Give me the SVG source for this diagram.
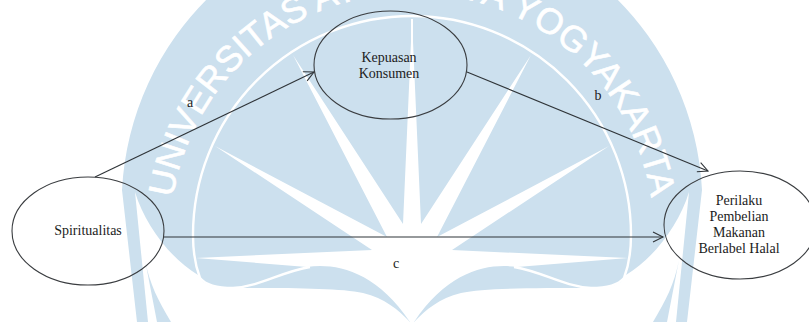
<svg xmlns="http://www.w3.org/2000/svg" xmlns:xlink="http://www.w3.org/1999/xlink" width="809" height="322" viewBox="0 0 809 322">
  <style>
    .wm { fill: #cce0ee; }
    .wo { fill: #fff; }
    .wr { fill: none; stroke: #fff; stroke-width: 2.4; }
    .wt { fill: #fff; stroke: #fff; stroke-width: 0.6; font-family: "Liberation Sans", Arial, sans-serif; font-size: 36px; }
    .node { fill: none; stroke: #3a3d40; stroke-width: 1.1; }
    .lbl { fill: #1c1c1c; font-family: "Liberation Serif", "Times New Roman", serif; font-size: 14px; text-anchor: middle; }
    .edge { fill: none; stroke: #2f3438; stroke-width: 1.1; marker-end: url(#open); }
  </style>
  <defs>
    <marker id="open" markerUnits="userSpaceOnUse" markerWidth="14" markerHeight="14" refX="11" refY="7" orient="auto">
      <path d="M1,2 L11,7 L1,12" fill="none" stroke="#2f3438" stroke-width="1.1"/>
    </marker>
    <path id="blueHalf" d="M413,-86 L412,-86 A291,291 0 0 0 122,190 L137,322 L148,322 L135,192 C145,225 170,258 198,275 L203,282 Q212,288 233,288 C290,288 340,288 363,293 C385,298 398,310 410,322 L413,322 Z"/>
    <path id="whiteHalf" d="M412,19 L403,224 L293,55 L387,237 L215,146 L372,250 L196,258 L307,267 C335,263 375,270 410,322 L413,322 L413,19 Z"/>
    <path id="ringHalf" d="M412,16 A219,219 0 0 0 193,235 C193,250 195,265 200,278 Q208,288 233,288 C262,286 280,272 310,267"/>
    <path id="strip2" d="M145,260 L157,322 L171,322 C158,300 150,285 145,260 Z"/>
    <path id="arcText" d="M170,235 A242,242 0 0 1 654,235"/>
  </defs>

  <rect width="809" height="322" fill="#fff"/>

  <g id="watermark">
    <use xlink:href="#blueHalf" href="#blueHalf" class="wm"/>
    <use xlink:href="#blueHalf" href="#blueHalf" class="wm" transform="matrix(-1 0 0 1 824 0)"/>
    <use xlink:href="#strip2" href="#strip2" class="wm"/>
    <use xlink:href="#strip2" href="#strip2" class="wm" transform="matrix(-1 0 0 1 824 0)"/>
    <use xlink:href="#ringHalf" href="#ringHalf" class="wr"/>
    <use xlink:href="#ringHalf" href="#ringHalf" class="wr" transform="matrix(-1 0 0 1 824 0)"/>
    <use xlink:href="#whiteHalf" href="#whiteHalf" class="wo"/>
    <use xlink:href="#whiteHalf" href="#whiteHalf" class="wo" transform="matrix(-1 0 0 1 824 0)"/>
    <text class="wt" text-anchor="middle"><textPath xlink:href="#arcText" href="#arcText" startOffset="50%">UNIVERSITAS ATMA JAYA YOGYAKARTA</textPath></text>
  </g>

  <g id="connectors">
    <path class="edge" d="M95,177 L314,72"/>
    <path class="edge" d="M467,72 L708,171"/>
    <path class="edge" d="M164,237 L663,237"/>
    <text class="lbl" x="190" y="107">a</text>
    <text class="lbl" x="598" y="100">b</text>
    <text class="lbl" x="396" y="268">c</text>
  </g>

  <g id="node-spiritualitas">
    <ellipse class="node" cx="88" cy="231" rx="76" ry="54"/>
    <text class="lbl" x="88" y="235">Spiritualitas</text>
  </g>
  <g id="node-kepuasan">
    <ellipse class="node" cx="390.5" cy="65" rx="76.5" ry="54"/>
    <text class="lbl" x="389" y="62">Kepuasan</text>
    <text class="lbl" x="389" y="78">Konsumen</text>
  </g>
  <g id="node-perilaku">
    <ellipse class="node" cx="740" cy="225" rx="76" ry="54"/>
    <text class="lbl" x="739" y="205">Perilaku</text>
    <text class="lbl" x="739" y="221">Pembelian</text>
    <text class="lbl" x="739" y="237">Makanan</text>
    <text class="lbl" x="739" y="253">Berlabel Halal</text>
  </g>
</svg>
